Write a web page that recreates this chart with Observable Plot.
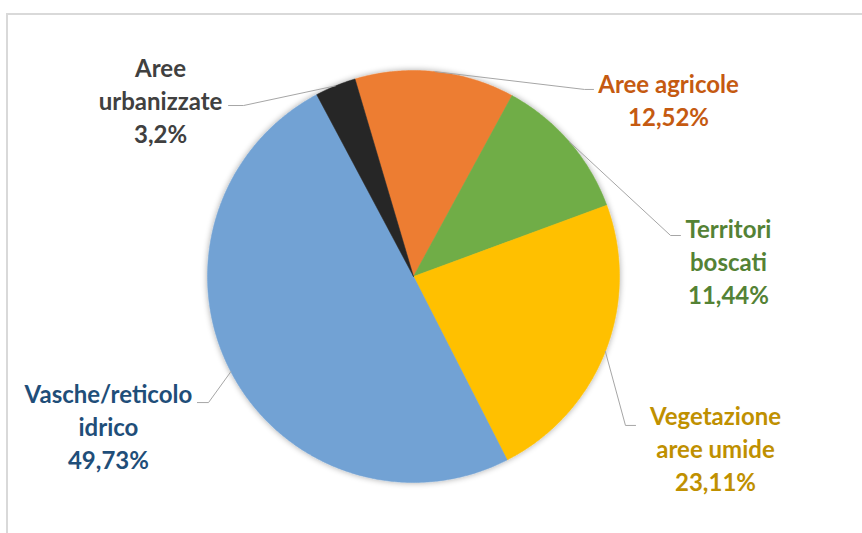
<!DOCTYPE html>
<html>
<head>
<meta charset="utf-8">
<script src="https://cdn.jsdelivr.net/npm/d3@7"></script>
<script src="https://cdn.jsdelivr.net/npm/@observablehq/plot@0.6"></script>
<style>
  html, body { margin: 0; padding: 0; background: #fff; }
  #wrap { position: relative; width: 862px; height: 533px; overflow: hidden; }
  #frame { position: absolute; left: 6px; top: 13px; right: -10px; bottom: -10px;
           border-top: 2px solid #d9d9d9; border-left: 2px solid #d9d9d9; }
  #chart { position: absolute; left: 0; top: 0; }
</style>
</head>
<body>
<div id="wrap"><div id="frame"></div><div id="chart"></div></div>
<script>
// ---- data (clockwise order, first slice starts just left of 12 o'clock) ----
const categories = ["Aree agricole", "Territori boscati", "Vegetazione aree umide", "Vasche/reticolo idrico", "Aree urbanizzate"];
const labelLines = ["Aree agricole", "Territori\nboscati", "Vegetazione\naree umide", "Vasche/reticolo\nidrico", "Aree\nurbanizzate"];
const values = [12.52, 11.44, 23.11, 49.73, 3.2];

// ---- styles / layout ----
const sliceColors = ["#ED7D31", "#70AD47", "#FFC000", "#72A2D4", "#262626"];
const textColors = ["#C55A11", "#548235", "#BF9000", "#1F4E79", "#404040"];
const startAngle = -16.5; // degrees, clockwise from top
// label block centres and leader-line elbows/ends, in pie-radius units
const labelPos = [[1.238, 0.862], [1.529, 0.078], [1.466, -0.830], [-1.481, -0.723], [-1.228, 0.859]];
const elbowPos = [[0.830, 0.908], [1.248, 0.199], [1.029, -0.723], [-0.995, -0.612], [-0.825, 0.830]];
const endPos   = [[0.874, 0.908], [1.296, 0.199], [1.078, -0.723], [-1.049, -0.612], [-0.898, 0.830]];

const total = d3.sum(values);
const rad = d => d * Math.PI / 180;
let acc = startAngle;
const slices = values.map((v, i) => {
  const a0 = acc, a1 = acc + v / total * 360; acc = a1;
  return {i, name: categories[i], a0, a1, mid: (a0 + a1) / 2};
});

// polygon points of all sectors
const piePts = [];
for (const s of slices) {
  piePts.push({name: s.name, color: sliceColors[s.i], x: 0, y: 0});
  const n = Math.max(2, Math.ceil((s.a1 - s.a0) / 0.5));
  for (let k = 0; k <= n; k++) {
    const a = rad(s.a0 + (s.a1 - s.a0) * k / n);
    piePts.push({name: s.name, color: sliceColors[s.i], x: Math.sin(a), y: Math.cos(a)});
  }
  piePts.push({name: s.name, color: sliceColors[s.i], x: 0, y: 0});
}

// leader lines
const leaderPts = [];
for (const s of slices) {
  const a = rad(s.mid);
  leaderPts.push({name: s.name, x: Math.sin(a), y: Math.cos(a)});
  leaderPts.push({name: s.name, x: elbowPos[s.i][0], y: elbowPos[s.i][1]});
  leaderPts.push({name: s.name, x: endPos[s.i][0], y: endPos[s.i][1]});
}

const fmt = v => String(v).replace(".", ",") + "%";
const labels = slices.map(s => ({
  text: labelLines[s.i] + "\n" + fmt(values[s.i]),
  color: textColors[s.i],
  x: labelPos[s.i][0], y: labelPos[s.i][1]
}));

const cx = 413, cy = 276, R = 206;
const chart = Plot.plot({
  width: 862, height: 533,
  margin: 0,
  style: {background: "transparent", fontFamily: "Lato, sans-serif"},
  x: {domain: [-1, 1], range: [cx - R, cx + R], axis: null},
  y: {domain: [-1, 1], range: [cy + R, cy - R], axis: null},
  color: {type: "identity"},
  marks: [
    Plot.line(piePts, {x: "x", y: "y", z: "name", fill: "color", stroke: "color", strokeWidth: 0.5}),
    Plot.line(leaderPts, {x: "x", y: "y", z: "name", stroke: "#a6a6a6", strokeWidth: 1}),
    Plot.text(labels, {x: "x", y: "y", text: "text", fill: "color", fontSize: 24, fontWeight: "bold",
      lineHeight: 1.375, lineAnchor: "middle", textAnchor: "middle"})
  ]
});

// soft shadow around the pie (first line group)
const ns = "http://www.w3.org/2000/svg";
const pieG = chart.querySelector('g[aria-label="line"]');
if (pieG) {
  const defs = document.createElementNS(ns, "defs");
  defs.innerHTML = '<filter id="pieShadow" x="-20%" y="-20%" width="140%" height="140%">' +
    '<feGaussianBlur in="SourceAlpha" stdDeviation="3"/>' +
    '<feComponentTransfer><feFuncA type="linear" slope="0.35"/></feComponentTransfer>' +
    '<feMerge><feMergeNode/><feMergeNode in="SourceGraphic"/></feMerge></filter>';
  chart.insertBefore(defs, chart.firstChild);
  pieG.setAttribute("filter", "url(#pieShadow)");
}
document.getElementById("chart").appendChild(chart);
</script>
</body>
</html>
